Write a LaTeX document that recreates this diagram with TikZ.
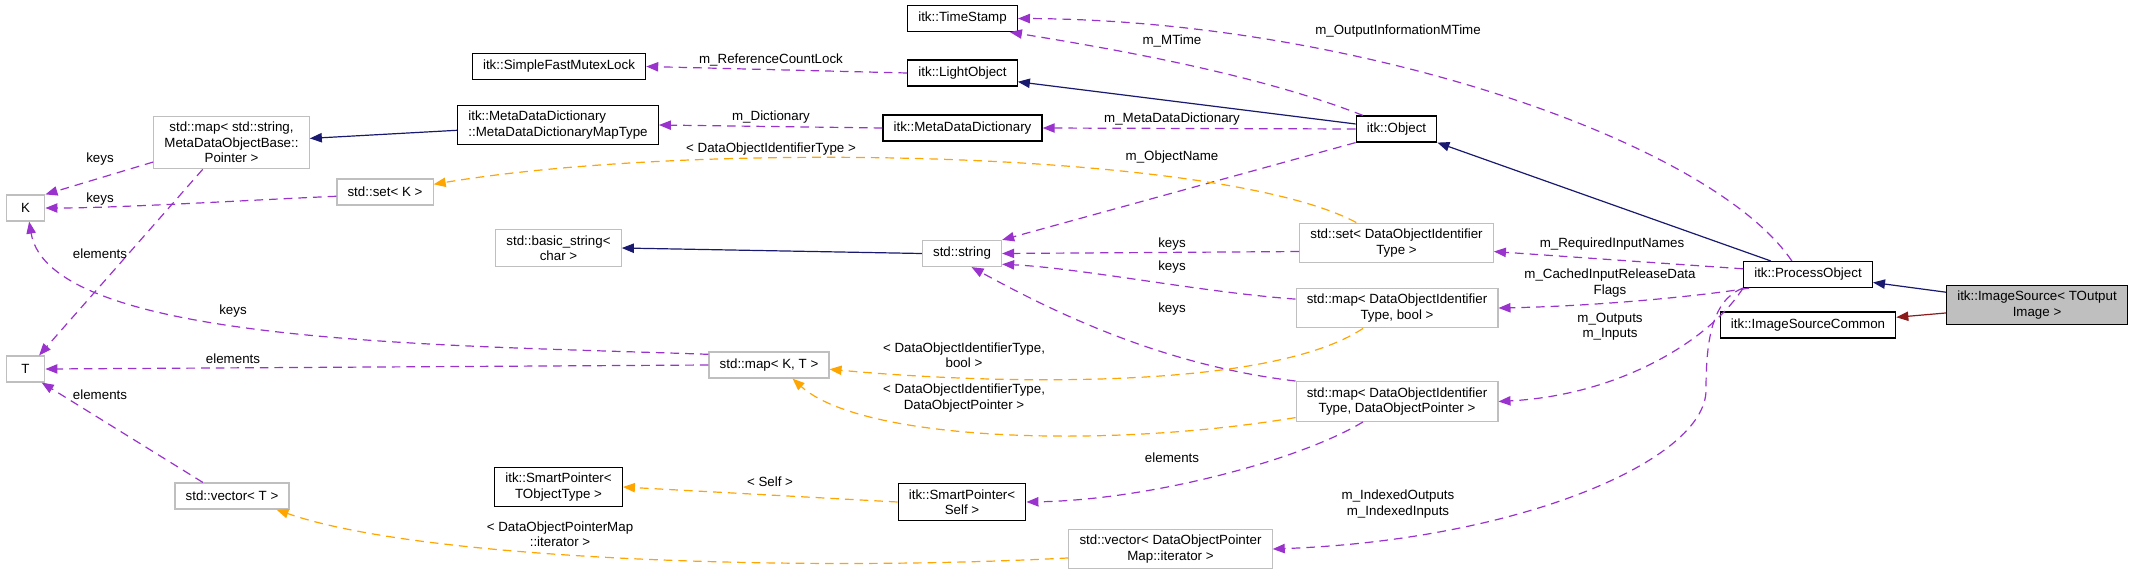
\documentclass[tikz,border=0pt]{standalone}
\usepackage{fontspec}
\setmainfont{Liberation Sans}
\usetikzlibrary{arrows.meta}
\definecolor{navy}{RGB}{25,25,112}
\definecolor{firebrick}{RGB}{139,26,26}
\definecolor{orchid}{RGB}{154,50,205}
\definecolor{amber}{RGB}{255,165,0}
\definecolor{frame}{RGB}{191,191,191}

\begin{document}
\begin{tikzpicture}[x=0.75pt,y=-0.75pt,font=\fontsize{10}{11.5}\selectfont,
    cls/.style={draw=black,fill=white,line width=0.9pt,inner xsep=8pt,inner ysep=4.5pt,
      minimum height=19.5pt,minimum width=29pt,align=center},
    ext/.style={cls,draw=frame},
    arr/.style={-{Triangle[length=9pt,width=7pt]},line width=0.9pt},
    inh/.style={arr,navy},
    mem/.style={arr,orchid,dash pattern=on 6.5pt off 4.5pt},
    tpl/.style={arr,amber,dash pattern=on 6.5pt off 4.5pt},
    lbl/.style={inner sep=0pt,align=center,text=black}]
  \useasboundingbox (0,0) rectangle (2133,575);

  % classes
  \node[cls] (ts) at (962.5,18.5) {itk::TimeStamp};
  \node[cls] (sfml) at (559,66.5) {itk::SimpleFastMutexLock};
  \node[cls] (lo) at (962.5,73) {itk::LightObject};
  \node[cls,align=left] (mt) at (558,125) {itk::MetaDataDictionary\\::MetaDataDictionaryMapType};
  \node[cls] (mdd) at (962.5,128) {itk::MetaDataDictionary};
  \node[cls] (obj) at (1396.5,129) {itk::Object};
  \node[ext] (ms) at (231.5,142.5) {std::map< std::string,\\MetaDataObjectBase::\\Pointer >};
  \node[ext] (k) at (25.5,208) {K};
  \node[ext] (sk) at (385,192) {std::set< K >};
  \node[ext] (bs) at (558.5,248) {std::basic\_string<\\char >};
  \node[ext] (ss) at (962,253.5) {std::string};
  \node[ext] (sd) at (1396.5,243) {std::set< DataObjectIdentifier\\Type >};
  \node[cls] (po) at (1808,274.5) {itk::ProcessObject};
  \node[ext] (mb) at (1397,308) {std::map< DataObjectIdentifier\\Type, bool >};
  \node[cls,fill=frame] (is) at (2037,305) {itk::ImageSource< TOutput\\Image >};
  \node[cls] (isc) at (1808,325) {itk::ImageSourceCommon};
  \node[ext] (t) at (25.5,369) {T};
  \node[ext] (mkt) at (769,365) {std::map< K, T >};
  \node[ext] (md) at (1397,401.5) {std::map< DataObjectIdentifier\\Type, DataObjectPointer >};
  \node[cls] (spt) at (558.5,487) {itk::SmartPointer<\\TObjectType >};
  \node[cls] (sps) at (962,502) {itk::SmartPointer<\\Self >};
  \node[ext] (vt) at (232,496) {std::vector< T >};
  \node[ext] (vi) at (1170.5,549) {std::vector< DataObjectPointer\\Map::iterator >};

  % inheritance
  \draw[inh] (is.172) -- (po.-7);
  \draw[inh] (po.160) -- (obj.south east);
  \draw[inh] (obj.173) -- (lo.-9);
  \draw[inh] (mt.183) -- (ms.3);
  \draw[inh] (ss.west) -- (bs.east);
  \draw[arr,firebrick] (is.185) -- (isc.5);

  % members
  \draw[mem] (po.140) .. controls (1710,140) and (1350,20) .. (ts.east) node[lbl] at (1398,31) {m\_OutputInformationMTime};
  \draw[mem] (obj.158) .. controls (1260,75) and (1120,50) .. (ts.-16) node[lbl] at (1172,41) {m\_MTime};
  \draw[mem] (lo.west) -- (sfml.east) node[lbl] at (771,60) {m\_ReferenceCountLock};
  \draw[mem] (mdd.west) -- (mt.east) node[lbl] at (771,117) {m\_Dictionary};
  \draw[mem] (obj.west) -- (mdd.east) node[lbl] at (1172,119) {m\_MetaDataDictionary};
  \draw[mem] (obj.south west) -- (ss.north east) node[lbl] at (1172,157) {m\_ObjectName};
  \draw[mem] (sd.185) -- (ss.east) node[lbl] at (1172,244) {keys};
  \draw[mem] (mb.175) .. controls (1200,292) and (1080,268) .. (ss.-15) node[lbl] at (1172,267) {keys};
  \draw[mem] (md.north west) .. controls (1160,365) and (1050,310) .. (ss.-55) node[lbl] at (1172,309) {keys};
  \draw[mem] (po.175) -- (sd.-5) node[lbl] at (1612,244) {m\_RequiredInputNames};
  \draw[mem] (po.193) .. controls (1700,296) and (1600,306) .. (mb.east) node[lbl] at (1610,283) {m\_CachedInputReleaseData\\Flags};
  \draw[mem] (po.south west) .. controls (1710,340) and (1620,395) .. (md.east) node[lbl] at (1610,327) {m\_Outputs\\m\_Inputs};
  \draw[mem] (po.south west) .. controls (1712,300) and (1706,340) .. (1706,390)
    .. controls (1706,460) and (1520,540) .. (vi.east) node[lbl] at (1398,504) {m\_IndexedOutputs\\m\_IndexedInputs};
  \draw[mem] (md.211) .. controls (1300,460) and (1150,500) .. (sps.east) node[lbl] at (1172,458) {elements};
  \draw[mem] (ms.194) -- (k.north east) node[lbl] at (100,159) {keys};
  \draw[mem] (sk.185) .. controls (250,200) and (120,208) .. (k.east) node[lbl] at (100,199) {keys};
  \draw[mem] (ms.223) -- (t.45) node[lbl] at (100,254) {elements};
  \draw[mem] (mkt.170) .. controls (450,345) and (50,345) .. (k.-75) node[lbl] at (233,311) {keys};
  \draw[mem] (mkt.west) -- (t.east) node[lbl] at (233,359) {elements};
  \draw[mem] (vt.155) -- (t.-40) node[lbl] at (100,395) {elements};

  % template instances
  \draw[tpl] (sd.153) .. controls (1220,150) and (700,140) .. (sk.9) node[lbl] at (771,149) {< DataObjectIdentifierType >};
  \draw[tpl] (mb.211) .. controls (1270,390) and (1000,385) .. (mkt.-4) node[lbl] at (964,355) {< DataObjectIdentifierType,\\bool >};
  \draw[tpl] (md.189) .. controls (1100,450) and (860,440) .. (mkt.-30) node[lbl] at (964,398) {< DataObjectIdentifierType,\\DataObjectPointer >};
  \draw[tpl] (sps.west) -- (spt.east) node[lbl] at (770,482) {< Self >};
  \draw[tpl] (vi.185) .. controls (800,572) and (420,560) .. (vt.-17) node[lbl] at (560,534) {< DataObjectPointerMap\\::iterator >};
\end{tikzpicture}
\end{document}
